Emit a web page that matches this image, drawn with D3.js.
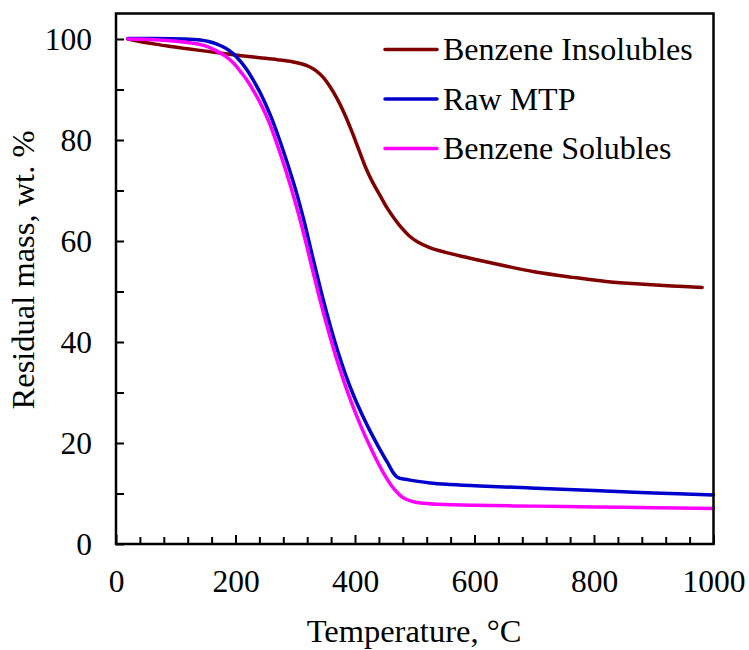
<!DOCTYPE html>
<html>
<head>
<meta charset="utf-8">
<script src="https://cdn.jsdelivr.net/npm/d3@7"></script>
<style>
  html, body { margin: 0; padding: 0; background: #fff; }
  svg { display: block; }
  text { font-family: "Liberation Serif", "Times New Roman", serif; fill: #000; }
</style>
</head>
<body>
<svg id="chart" width="749" height="650"></svg>
<script>
// Thermogravimetric curves: residual mass (wt. %) vs temperature (°C)
const seriesNames = ["Benzene Insolubles", "Raw MTP", "Benzene Solubles"];
const seriesColors = ["#800000", "#0000cc", "#ff00ff"];

const insolublesT = [20, 40, 60, 86, 120, 150, 180, 210, 240, 270, 295, 310, 322, 334, 346, 358, 370, 382, 394, 406, 418, 430, 442, 454, 466, 478, 490, 505, 525, 550, 600, 650, 700, 765, 820, 877, 930, 981];
const insolublesMass = [100, 99.5, 99.1, 98.6, 98.05, 97.6, 97.15, 96.7, 96.3, 95.9, 95.5, 95.1, 94.6, 93.8, 92.5, 90.6, 88.2, 85.3, 81.9, 78.2, 74.5, 71.5, 69.0, 66.5, 64.4, 62.6, 61.1, 59.8, 58.7, 57.8, 56.4, 55.1, 53.9, 52.8, 52.0, 51.5, 51.1, 50.8];

const rawT = [20, 60, 113, 141, 155, 169, 183, 197, 208, 219, 230, 242, 258, 272, 286, 300, 314, 328, 342, 356, 370, 384, 398, 412, 426, 440, 454, 470, 490, 526, 560, 609, 693, 800, 900, 1000];
const rawMass = [100.1, 100.1, 100.0, 99.8, 99.5, 99.0, 98.2, 97.0, 95.6, 93.9, 91.8, 89.2, 85.0, 80.6, 75.7, 70.4, 64.3, 57.4, 50.6, 44.3, 38.6, 33.6, 29.3, 25.6, 22.2, 19.1, 16.2, 13.3, 12.7, 12.1, 11.8, 11.5, 11.1, 10.6, 10.1, 9.7];

const solublesT = [20, 60, 86, 113, 141, 155, 169, 183, 197, 208, 219, 230, 242, 256, 270, 284, 298, 312, 326, 340, 354, 368, 382, 396, 410, 424, 438, 452, 466, 480, 494, 510, 540, 600, 700, 800, 900, 1000];
const solublesMass = [100, 99.9, 99.7, 99.4, 98.9, 98.4, 97.6, 96.6, 95.2, 93.6, 91.9, 89.8, 87.2, 83.6, 79.0, 74.0, 68.5, 62.4, 55.7, 49.0, 42.8, 37.1, 32.0, 27.4, 23.3, 19.6, 16.2, 13.2, 10.8, 9.2, 8.5, 8.1, 7.85, 7.65, 7.5, 7.35, 7.2, 7.05];

const xMajorTicks = [0, 200, 400, 600, 800, 1000];
const yMajorTicks = [0, 20, 40, 60, 80, 100];

const seriesT = [insolublesT, rawT, solublesT];
const seriesMass = [insolublesMass, rawMass, solublesMass];

// Layout
const plotLeft = 116, plotRight = 713.5, plotTop = 13.5, plotBottom = 544;
const svg = d3.select("#chart");

const x = d3.scaleLinear().domain([0, 1000]).range([plotLeft, plotRight]);
const y = d3.scaleLinear().domain([0, 100]).range([plotBottom, 39]);

// Minor ticks (inward)
const xMinor = d3.range(0, 1001, 40).filter(v => !xMajorTicks.includes(v));
const yMinor = d3.range(0, 101, 10).filter(v => !yMajorTicks.includes(v));

svg.append("g")
  .attr("transform", `translate(0,${plotBottom})`)
  .call(d3.axisBottom(x).tickValues(xMinor).tickSizeInner(-7).tickSizeOuter(0).tickFormat(""))
  .call(g => g.select(".domain").remove())
  .call(g => g.selectAll("line").attr("stroke", "#000").attr("stroke-width", 2));

svg.append("g")
  .attr("transform", `translate(${plotLeft},0)`)
  .call(d3.axisLeft(y).tickValues(yMinor).tickSizeInner(-8).tickSizeOuter(0).tickFormat(""))
  .call(g => g.select(".domain").remove())
  .call(g => g.selectAll("line").attr("stroke", "#000").attr("stroke-width", 2));

// Major ticks with labels
svg.append("g")
  .attr("transform", `translate(0,${plotBottom})`)
  .call(d3.axisBottom(x).tickValues(xMajorTicks).tickSizeInner(-9).tickSizeOuter(0).tickPadding(26).tickFormat(d3.format("d")))
  .call(g => g.select(".domain").remove())
  .call(g => g.selectAll("line").attr("stroke", "#000").attr("stroke-width", 2))
  .call(g => g.selectAll("text").attr("font-size", 31.5).attr("font-family", "Liberation Serif"));

svg.append("g")
  .attr("transform", `translate(${plotLeft},0)`)
  .call(d3.axisLeft(y).tickValues(yMajorTicks).tickSizeInner(-8).tickSizeOuter(0).tickPadding(24).tickFormat(d3.format("d")))
  .call(g => g.select(".domain").remove())
  .call(g => g.selectAll("line").attr("stroke", "#000").attr("stroke-width", 2))
  .call(g => g.selectAll("text").attr("font-size", 31.5).attr("font-family", "Liberation Serif"));

// Curves
const line = d3.line()
  .x(d => x(d[0]))
  .y(d => y(d[1]))
  .curve(d3.curveCatmullRom.alpha(0.5));

seriesNames.forEach((name, i) => {
  const pts = seriesT[i].map((t, j) => [t, seriesMass[i][j]]);
  svg.append("path")
    .datum(pts)
    .attr("fill", "none")
    .attr("stroke", seriesColors[i])
    .attr("stroke-width", 3.5)
    .attr("stroke-linejoin", "round")
    .attr("stroke-linecap", "round")
    .attr("d", line);
});

// Plot frame
svg.append("rect")
  .attr("x", plotLeft)
  .attr("y", plotTop)
  .attr("width", plotRight - plotLeft)
  .attr("height", plotBottom - plotTop)
  .attr("fill", "none")
  .attr("stroke", "#000")
  .attr("stroke-width", 2.5);

// Legend
const legend = svg.append("g");
seriesNames.forEach((name, i) => {
  const ly = 49.5 + i * 49.5;
  legend.append("line")
    .attr("x1", 385).attr("x2", 437)
    .attr("y1", ly).attr("y2", ly)
    .attr("stroke", seriesColors[i])
    .attr("stroke-width", 3.5)
    .attr("stroke-linecap", "round");
  legend.append("text")
    .attr("x", 443)
    .attr("y", ly + 10.5)
    .attr("font-size", 32)
    .text(name);
});

// Axis titles
svg.append("text")
  .attr("x", 414)
  .attr("y", 642)
  .attr("text-anchor", "middle")
  .attr("font-size", 32.5)
  .text("Temperature, °C");

svg.append("text")
  .attr("transform", "translate(34,270) rotate(-90)")
  .attr("text-anchor", "middle")
  .attr("font-size", 32.5)
  .text("Residual mass, wt. %");
</script>
</body>
</html>
